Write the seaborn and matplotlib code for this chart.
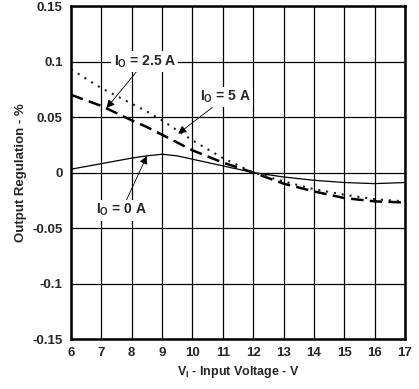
import pandas as pd
import matplotlib
matplotlib.use("Agg")
import matplotlib.pyplot as plt
import seaborn as sns

# values
vin = [6, 7, 8, 8.5, 9, 9.5, 10, 11, 12, 13, 14, 15, 16, 17]
reg_0a = [0.003, 0.008, 0.013, 0.015, 0.0165, 0.015, 0.012, 0.006, 0.0, -0.004, -0.007, -0.009, -0.010, -0.009]
reg_2p5a = [0.070, 0.060, 0.047, 0.041, 0.034, 0.027, 0.020, 0.009, 0.0, -0.010, -0.017, -0.023, -0.026, -0.027]
reg_5a = [0.093, 0.076, 0.062, 0.055, 0.047, 0.038, 0.029, 0.013, 0.0, -0.008, -0.015, -0.020, -0.024, -0.026]

x_ticks = list(range(6, 18))
y_ticks = [-0.15, -0.1, -0.05, 0, 0.05, 0.1, 0.15]
y_labels = ["-0.15", "-0.1", "-0.05", "0", "0.05", "0.1", "0.15"]

sns.set_style("white")
plt.rcParams["font.family"] = ["Liberation Sans", "DejaVu Sans"]
plt.rcParams["font.weight"] = "bold"
plt.rcParams["mathtext.fontset"] = "custom"
plt.rcParams["mathtext.rm"] = "Liberation Sans:bold"
plt.rcParams["mathtext.it"] = "Liberation Sans:bold"
plt.rcParams["mathtext.bf"] = "Liberation Sans:bold"

df = pd.DataFrame({
    "vin": vin * 3,
    "reg": reg_0a + reg_2p5a + reg_5a,
    "load": ["0A"] * len(vin) + ["2.5A"] * len(vin) + ["5A"] * len(vin),
})

fig = plt.figure(figsize=(4.19, 3.89), dpi=100)
ax = fig.add_axes([0.1695, 0.1285, 0.797, 0.856])

sns.lineplot(data=df[df["load"] == "0A"], x="vin", y="reg", color="black", lw=0.9, ax=ax)
sns.lineplot(data=df[df["load"] == "2.5A"], x="vin", y="reg", color="black", lw=1.8, ax=ax)
ax.lines[-1].set_dashes([5, 2.5])
sns.lineplot(data=df[df["load"] == "5A"], x="vin", y="reg", color="#222222", lw=1.5, ax=ax)
ax.lines[-1].set_linestyle((0, (1, 2.8)))

ax.set_xlim(6, 17)
ax.set_ylim(-0.15, 0.15)
ax.set_xticks(x_ticks)
ax.set_yticks(y_ticks)
ax.set_yticklabels(y_labels)
ax.grid(True, color="black", lw=0.9)
ax.set_axisbelow(True)
ax.tick_params(length=0, labelsize=9.5, pad=6)
for s in ax.spines.values():
    s.set_linewidth(1.8)
    s.set_color("black")

ax.set_xlabel(r"V$_\mathregular{I}$ - Input Voltage - V", fontsize=9, fontweight="bold", labelpad=3)
ax.set_ylabel("Output Regulation - %", fontsize=9.5, fontweight="bold", labelpad=4)

box = dict(facecolor="white", edgecolor="none", pad=1.5)
arrow = dict(arrowstyle="-|>", color="black", lw=0.6, mutation_scale=12, shrinkA=0, shrinkB=0)
ax.annotate(r"I$_\mathregular{O}$ = 2.5 A", xy=(7.17, 0.058), xytext=(8.43, 0.1),
            ha="center", va="center", fontsize=10, fontweight="bold", bbox=box, arrowprops=arrow)
ax.annotate(r"I$_\mathregular{O}$ = 5 A", xy=(9.53, 0.035), xytext=(11.1, 0.068),
            ha="center", va="center", fontsize=10, fontweight="bold", bbox=box, arrowprops=arrow)
ax.annotate(r"I$_\mathregular{O}$ = 0 A", xy=(8.5, 0.015), xytext=(7.67, -0.034),
            ha="center", va="center", fontsize=10, fontweight="bold", bbox=box, arrowprops=arrow)

fig.savefig("out.png", dpi=100)
